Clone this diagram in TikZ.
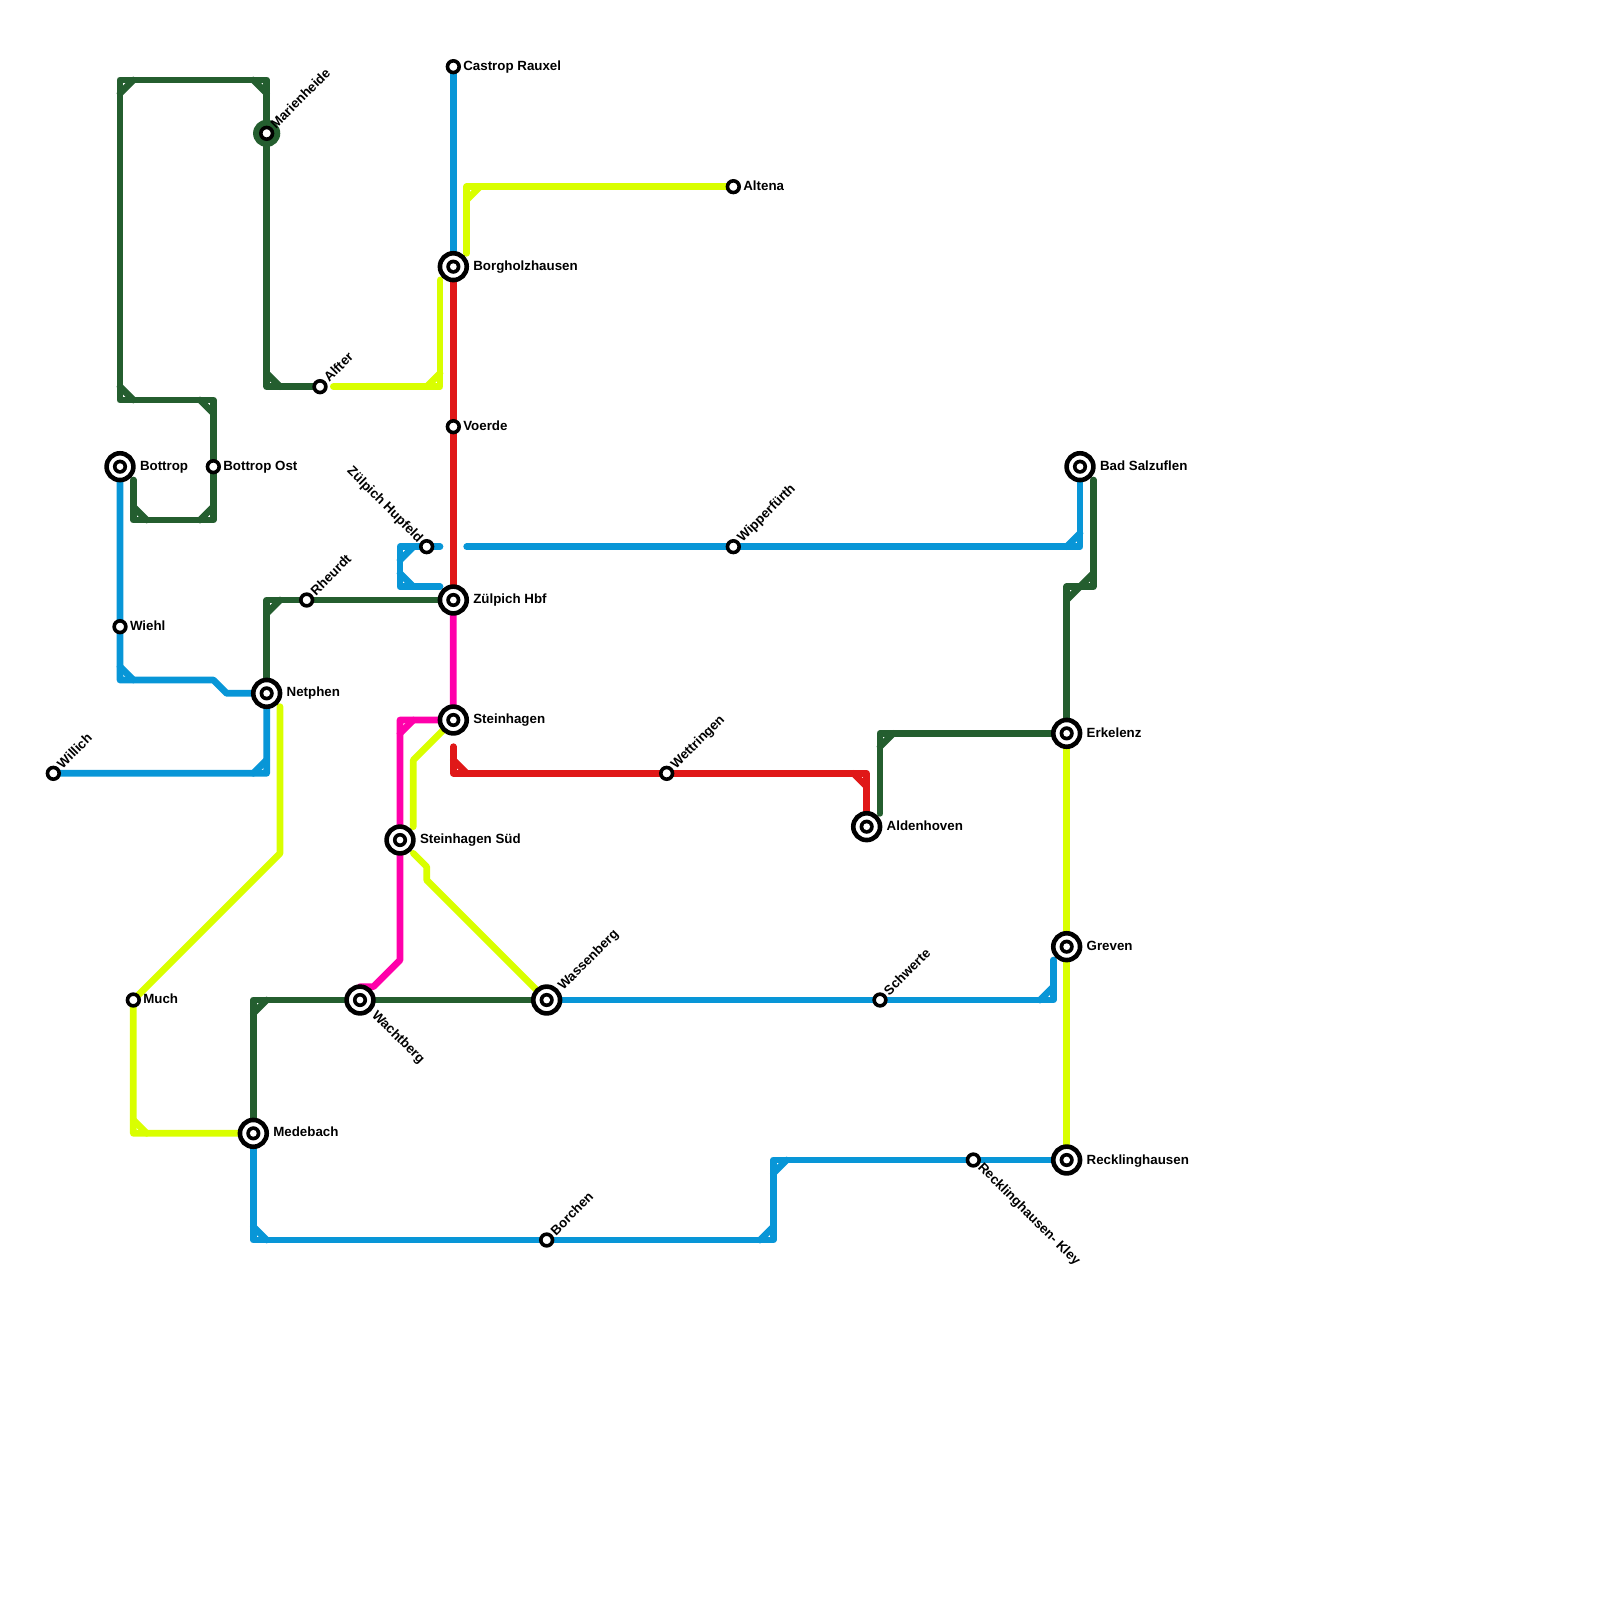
\documentclass[tikz,border=0pt]{standalone}
\usepackage{fontspec}
\setmainfont{Liberation Sans}
\usetikzlibrary{backgrounds}
\definecolor{lblue}{HTML}{0896D7}
\definecolor{lgreen}{HTML}{245E2F}
\definecolor{llime}{HTML}{D9FF00}
\definecolor{lred}{HTML}{E01818}
\definecolor{lpink}{HTML}{FF00AA}
\tikzset{
 x=13.3333pt,y=-13.3333pt,
 stn/.style={circle,draw=black,fill=white,line width=3.6pt,minimum size=11.7pt,inner sep=0pt,outer sep=0pt},
 xchg/.style={circle,draw=black,fill=white,line width=4.6pt,minimum size=26.8pt,inner sep=0pt,outer sep=0pt,
   path picture={\fill[black] (path picture bounding box.center) circle (7.1pt);
                 \fill[white] (path picture bounding box.center) circle (3.4pt);}},
 lab/.style={font=\fontsize{13.33}{15}\selectfont\bfseries,inner sep=0pt,outer sep=0pt,anchor=base west,text=black},
 rlab/.style={lab,anchor=base east},
 metro/.style={line width=6.7pt,line cap=round,line join=round},
 blueline/.style={metro,draw=lblue},
 greenline/.style={metro,draw=lgreen},
 limeline/.style={metro,draw=llime},
 redline/.style={metro,draw=lred},
 pinkline/.style={metro,draw=lpink},
}
\begin{document}
\begin{tikzpicture}
\useasboundingbox (0,0) rectangle (120,120);
% stations
\fill[lgreen] (20,10) circle (13.6pt);
\node[stn] (castrop) at (34,5) {};
\node[stn] (altena) at (55,14) {};
\node[stn] (marien) at (20,10) {};
\node[xchg] (borg) at (34,20) {};
\node[stn] (alfter) at (24,29) {};
\node[stn] (voerde) at (34,32) {};
\node[xchg] (bottrop) at (9,35) {};
\node[stn] (bottost) at (16,35) {};
\node[xchg] (salz) at (81,35) {};
\node[stn] (hupfeld) at (32,41) {};
\node[stn] (wipper) at (55,41) {};
\node[stn] (rheurdt) at (23,45) {};
\node[xchg] (hbf) at (34,45) {};
\node[stn] (wiehl) at (9,47) {};
\node[xchg] (netphen) at (20,52) {};
\node[xchg] (stein) at (34,54) {};
\node[xchg] (erkelenz) at (80,55) {};
\node[stn] (willich) at (4,58) {};
\node[stn] (wett) at (50,58) {};
\node[xchg] (alden) at (65,62) {};
\node[xchg] (steinsued) at (30,63) {};
\node[xchg] (greven) at (80,71) {};
\node[stn] (much) at (10,75) {};
\node[xchg] (wacht) at (27,75) {};
\node[xchg] (wassen) at (41,75) {};
\node[stn] (schwerte) at (66,75) {};
\node[xchg] (medebach) at (19,85) {};
\node[stn] (kley) at (73,87) {};
\node[xchg] (reckl) at (80,87) {};
\node[stn] (borchen) at (41,93) {};
% free line ends
\coordinate (e1) at (10,36);
\coordinate (e2) at (35,41);
\coordinate (e3) at (33,41);
\coordinate (e4) at (33,44);
\coordinate (e5) at (79,72);
\coordinate (e6) at (35,19);
\coordinate (e7) at (25,29);
\coordinate (e8) at (33,21);
\coordinate (e9) at (21,53);
\coordinate (e10) at (31,62);
\coordinate (e11) at (31,64);
\coordinate (e12) at (34,56);
\coordinate (e13) at (66,61);
\coordinate (e14) at (82,36);
% labels
\node[lab] (t1) at (34.75,5.27) {Castrop Rauxel};
\node[lab] (t2) at (55.75,14.27) {Altena};
\node[lab,rotate=45] (t3) at (20.7,9.7) {Marienheide};
\node[lab] (t4) at (35.5,20.27) {Borgholzhausen};
\node[lab,rotate=45] (t5) at (24.7,28.7) {Alfter};
\node[lab] (t6) at (34.75,32.27) {Voerde};
\node[lab] (t7) at (10.5,35.27) {Bottrop};
\node[lab] (t8) at (16.75,35.27) {Bottrop Ost};
\node[lab] (t9) at (82.5,35.27) {Bad Salzuflen};
\node[rlab,rotate=-45] (t10) at (31.33,40.73) {Zülpich Hupfeld};
\node[lab,rotate=45] (t11) at (55.7,40.7) {Wipperfürth};
\node[lab,rotate=45] (t12) at (23.7,44.7) {Rheurdt};
\node[lab] (t13) at (35.5,45.27) {Zülpich Hbf};
\node[lab] (t14) at (9.75,47.27) {Wiehl};
\node[lab] (t15) at (21.5,52.27) {Netphen};
\node[lab] (t16) at (35.5,54.27) {Steinhagen};
\node[lab] (t17) at (81.5,55.3) {Erkelenz};
\node[lab,rotate=45] (t18) at (4.7,57.7) {Willich};
\node[lab,rotate=45] (t19) at (50.7,57.7) {Wettringen};
\node[lab] (t20) at (66.5,62.27) {Aldenhoven};
\node[lab] (t21) at (31.5,63.27) {Steinhagen Süd};
\node[lab] (t22) at (81.5,71.27) {Greven};
\node[lab] (t23) at (10.75,75.27) {Much};
\node[lab,rotate=-45] (t24) at (27.85,76.2) {Wachtberg};
\node[lab,rotate=45] (t25) at (42.25,74.3) {Wassenberg};
\node[lab,rotate=45] (t26) at (66.7,74.7) {Schwerte};
\node[lab] (t27) at (20.5,85.27) {Medebach};
\node[lab,rotate=-45] (t28) at (73.3,87.6) {Recklinghausen- Kley};
\node[lab] (t29) at (81.5,87.3) {Recklinghausen};
\node[lab,rotate=45] (t30) at (41.7,92.7) {Borchen};
% lines
\begin{scope}[on background layer]
 % green
 \draw[greenline] (e1) -- (10,39) -- (bottost.center |- 0,39) -- (bottost.center) -- (16,30) -- (9,30) -- (9,6) -- (20,6) -- (marien.center) -- (20,29) -- (alfter.center);
 \draw[greenline] (10,38) -- (11,39) (15,39) -- (16,38) (15,30) -- (16,31) (9,29) -- (10,30) (9,7) -- (10,6) (19,6) -- (20,7) (20,28) -- (21,29);
 \draw[greenline] (hbf.center) -- (rheurdt.center) -- (20,45) -- (netphen.center);
 \draw[greenline] (20,46) -- (21,45);
 \draw[greenline] (medebach.center) -- (19,75) -- (wacht.center) -- (wassen.center);
 \draw[greenline] (19,76) -- (20,75);
 \draw[greenline] (e13) -- (66,55) -- (erkelenz.center) -- (80,44) -- (82,44) -- (e14);
 \draw[greenline] (66,56) -- (67,55) (80,45) -- (81,44) -- (82,43);
 % blue
 \draw[blueline] (castrop.center) -- (borg.center);
 \draw[blueline] (salz.center) -- (81,41) -- (wipper.center) -- (e2);
 \draw[blueline] (80,41) -- (81,40);
 \draw[blueline] (e3) -- (hupfeld.center) -- (30,41) -- (30,44) -- (e4);
 \draw[blueline] (30,42) -- (31,41) (30,43) -- (31,44);
 \draw[blueline] (bottrop.center) -- (wiehl.center) -- (9,51) -- (16,51) -- (17,52) -- (netphen.center) -- (20,58) -- (willich.center);
 \draw[blueline] (9,50) -- (10,51) (19,58) -- (20,57);
 \draw[blueline] (medebach.center) -- (19,93) -- (borchen.center) -- (58,93) -- (58,87) -- (kley.center) -- (reckl.center);
 \draw[blueline] (19,92) -- (20,93) (57,93) -- (58,92) (58,88) -- (59,87);
 \draw[blueline] (wassen.center) -- (schwerte.center) -- (79,75) -- (e5);
 \draw[blueline] (78,75) -- (79,74);
 % lime
 \draw[limeline] (altena.center) -- (35,14) -- (e6);
 \draw[limeline] (35,15) -- (36,14);
 \draw[limeline] (e7) -- (33,29) -- (e8);
 \draw[limeline] (32,29) -- (33,28);
 \draw[limeline] (e9) -- (21,64) -- (much.center) -- (10,85) -- (medebach.center);
 \draw[limeline] (10,84) -- (11,85);
 \draw[limeline] (stein.center) -- (33,55) -- (31,57) -- (e10);
 \draw[limeline] (e11) -- (32,65) -- (32,66) -- (40,74) -- (wassen.center);
 \draw[limeline] (erkelenz.center) -- (greven.center) -- (reckl.center);
 % red
 \draw[redline] (borg.center) -- (voerde.center) -- (hbf.center);
 \draw[redline] (e12) -- (34,58) -- (wett.center) -- (65,58) -- (alden.center);
 \draw[redline] (34,57) -- (35,58) (64,58) -- (65,59);
 % pink
 \draw[pinkline] (hbf.center) -- (stein.center) -- (30,54) -- (30,72) -- (28,74) -- (27,74);
 \draw[pinkline] (30,55) -- (31,54);
\end{scope}
\end{tikzpicture}
\end{document}
